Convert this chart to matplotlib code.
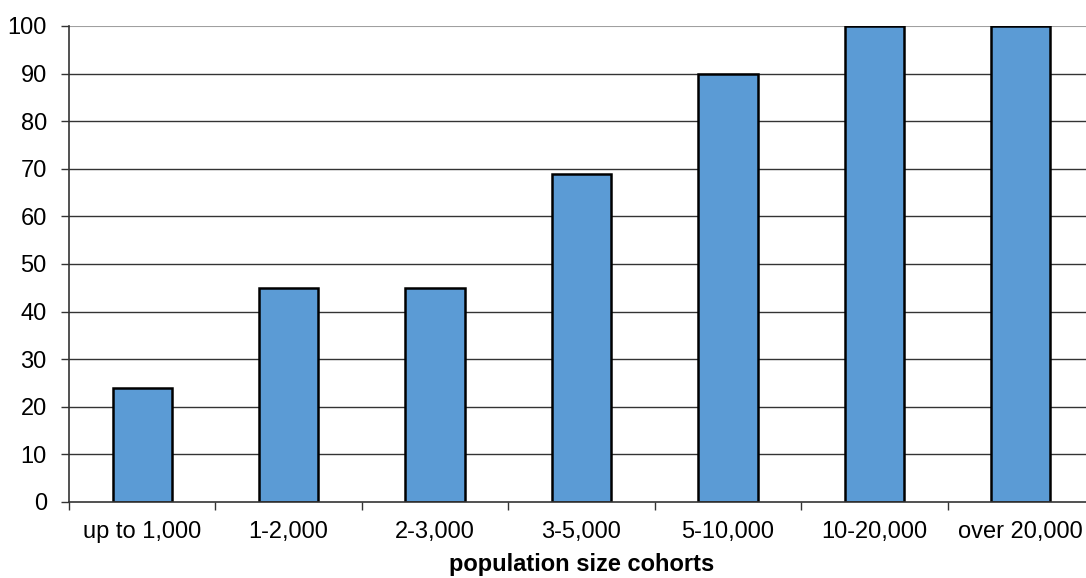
import matplotlib
matplotlib.use("Agg")
import matplotlib.pyplot as plt
import numpy as np

categories = ["up to 1,000", "1-2,000", "2-3,000", "3-5,000", "5-10,000", "10-20,000", "over 20,000"]
values = [24, 45, 45, 69, 90, 100, 100]
yticks = [0, 10, 20, 30, 40, 50, 60, 70, 80, 90, 100]

plt.rcParams['font.family'] = ['Liberation Sans', 'DejaVu Sans']

fig = plt.figure(figsize=(10.86, 5.78), dpi=100)
ax = fig.add_axes([69/1086, 1-502/578, (1094-69)/1086, (502-26)/578])

x = np.arange(len(categories))
ax.set_axisbelow(True)
for yv in yticks[1:-1]:
    ax.axhline(yv, color='#333333', lw=1.0, zorder=0)
ax.axhline(100, color='#a0a0a0', lw=1.5, zorder=0)
ax.bar(x, values, width=0.405, color='#5b9bd5', edgecolor='black', linewidth=1.8, zorder=2)

ax.set_xlim(-0.5, len(categories) - 0.5)
ax.set_ylim(0, 100)
ax.set_yticks(yticks)
ax.tick_params(axis='y', labelsize=17, length=6, width=1, color='#333333', pad=10)
ax.set_xticks(x)
ax.set_xticklabels(categories, fontsize=17)
ax.tick_params(axis='x', length=0, pad=14)
ax.set_xticks(np.arange(-0.5, len(categories), 1), minor=True)
ax.tick_params(axis='x', which='minor', length=6, width=1, color='#333333')

for s in ['top', 'right']:
    ax.spines[s].set_visible(False)
ax.spines['left'].set_color('#333333')
ax.spines['bottom'].set_color('#333333')
ax.spines['left'].set_linewidth(1.2)
ax.spines['bottom'].set_linewidth(1.2)

ax.set_xlabel("population size cohorts", fontsize=17, fontweight='bold', labelpad=7)

fig.savefig("out.png", dpi=100)
